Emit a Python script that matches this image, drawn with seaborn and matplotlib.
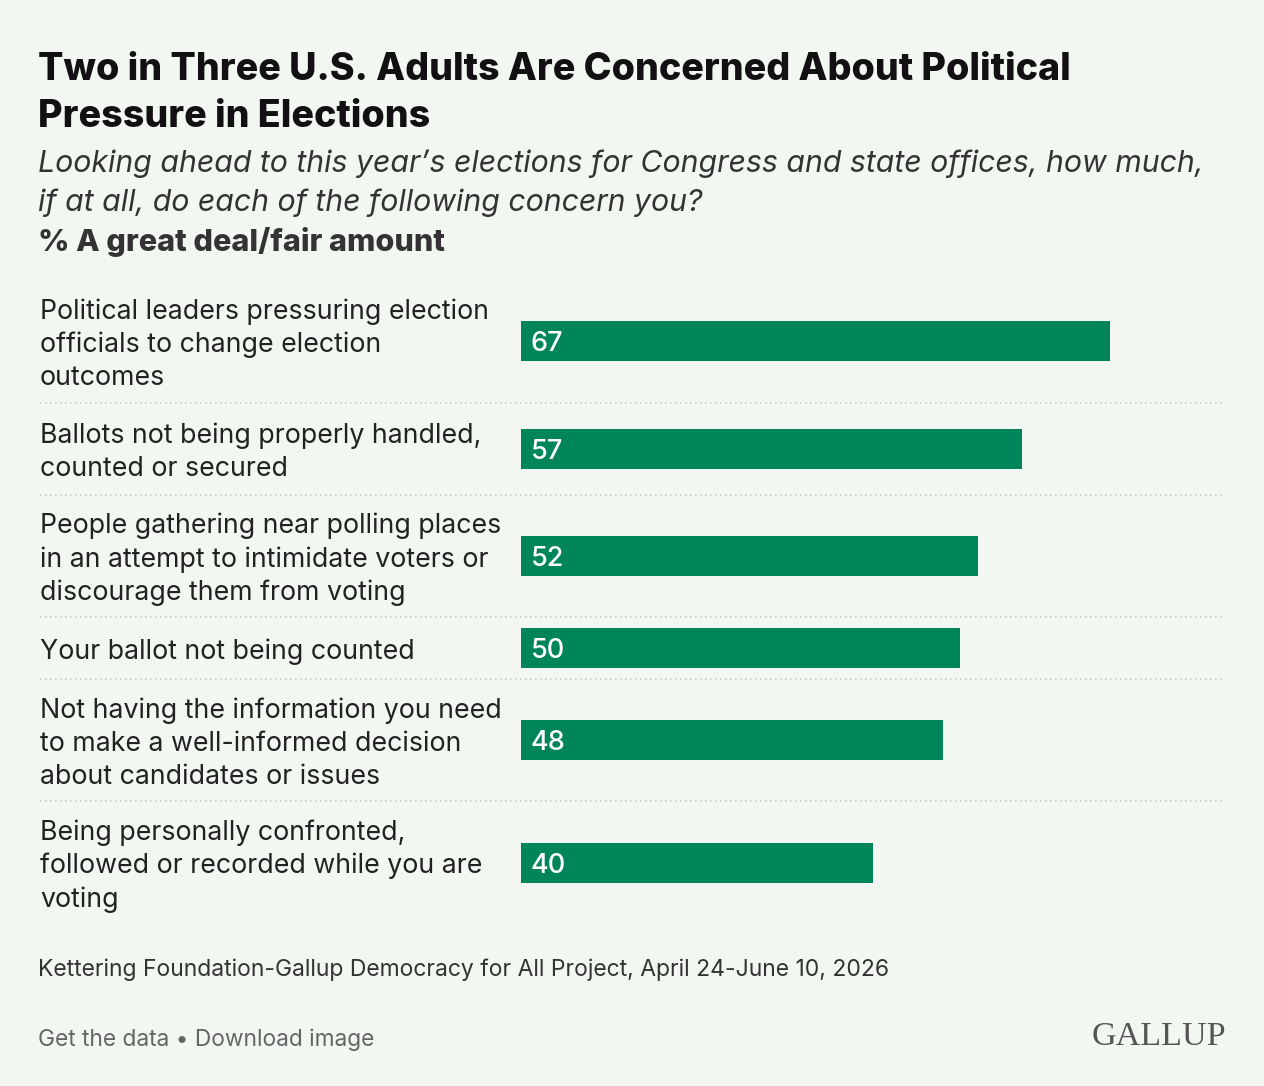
import matplotlib
matplotlib.use("Agg")
import matplotlib.pyplot as plt
from matplotlib.lines import Line2D
import seaborn as sns

# data
labels = [
    "Political leaders pressuring election\nofficials to change election\noutcomes",
    "Ballots not being properly handled,\ncounted or secured",
    "People gathering near polling places\nin an attempt to intimidate voters or\ndiscourage them from voting",
    "Your ballot not being counted",
    "Not having the information you need\nto make a well-informed decision\nabout candidates or issues",
    "Being personally confronted,\nfollowed or recorded while you are\nvoting",
]
values = [67, 57, 52, 50, 48, 40]

title_lines = ["Two in Three U.S. Adults Are Concerned About Political",
               "Pressure in Elections"]
subtitle_lines = ["Looking ahead to this year\u2019s elections for Congress and state offices, how much,",
                  "if at all, do each of the following concern you?"]
measure = "% A great deal/fair amount"
source = "Kettering Foundation-Gallup Democracy for All Project, April 24-June 10, 2026"
links = "Get the data \u2022 Download image"

BG = "#f2f8f1"
GREEN = "#00855a"
W, H = 1264, 1086

sns.set_theme(style="white", rc={"axes.facecolor": BG, "figure.facecolor": BG})
plt.rcParams["font.family"] = ["Inter", "DejaVu Sans"]

fig = plt.figure(figsize=(W / 100, H / 100), dpi=100)


def fx(x):
    return x / W


def fy(y):
    return 1 - y / H


# one row per item, height grows with the number of label lines
n_lines = [lab.count("\n") + 1 for lab in labels]
gs = fig.add_gridspec(len(labels), 1, height_ratios=[n + 1 for n in n_lines],
                      left=fx(521), right=fx(1224), top=fy(280), bottom=fy(924),
                      hspace=0)

bar_px = 40
for i, (lab, val) in enumerate(zip(labels, values)):
    ax = fig.add_subplot(gs[i])
    sns.barplot(x=[val], y=[lab], color=GREEN, width=1.0, saturation=1,
                ax=ax, edgecolor="none")
    ax.set_xlim(0, 80)
    h_px = ax.get_position().height * H
    half = h_px / bar_px / 2
    ax.set_ylim(half, -half)
    ax.set_axis_off()
    ax.annotate(str(val), xy=(0, 0), xytext=(10, -3), textcoords="offset pixels",
                ha="left", va="center", color="white", fontsize=19.5,
                fontweight="medium")
    pos = ax.get_position()
    yc = (pos.y0 + pos.y1) / 2
    fig.text(fx(40), yc - 3.5 / H, lab, ha="left", va="center", fontsize=19.25,
             color="#222222", linespacing=1.34)
    if i < len(labels) - 1:
        fig.add_artist(Line2D([fx(40), fx(1224)], [pos.y0, pos.y0],
                              transform=fig.transFigure, color="#c9cfc9",
                              linewidth=1.2, linestyle=(0, (1, 2))))

for line, yb in zip(title_lines, [80, 127]):
    fig.text(fx(38), fy(yb), line, ha="left", va="baseline", fontsize=27.1,
             fontweight="heavy", color="#111111")
for line, yb in zip(subtitle_lines, [172, 211]):
    fig.text(fx(38), fy(yb), line, ha="left", va="baseline", fontsize=21.8,
             fontstyle="italic", color="#333333")
fig.text(fx(38), fy(251), measure, ha="left", va="baseline", fontsize=22,
         fontweight="heavy", color="#333333")

fig.text(fx(38), fy(976), source, ha="left", va="baseline", fontsize=16.5,
         color="#333333")
fig.text(fx(38), fy(1046), links, ha="left", va="baseline", fontsize=16.4,
         color="#666666")
fig.text(fx(1226), fy(1045), "GALLUP", ha="right", va="baseline", fontsize=24.5,
         family=["Liberation Serif", "DejaVu Serif"], color="#555555")

fig.savefig("out.png", dpi=100, facecolor=BG)
